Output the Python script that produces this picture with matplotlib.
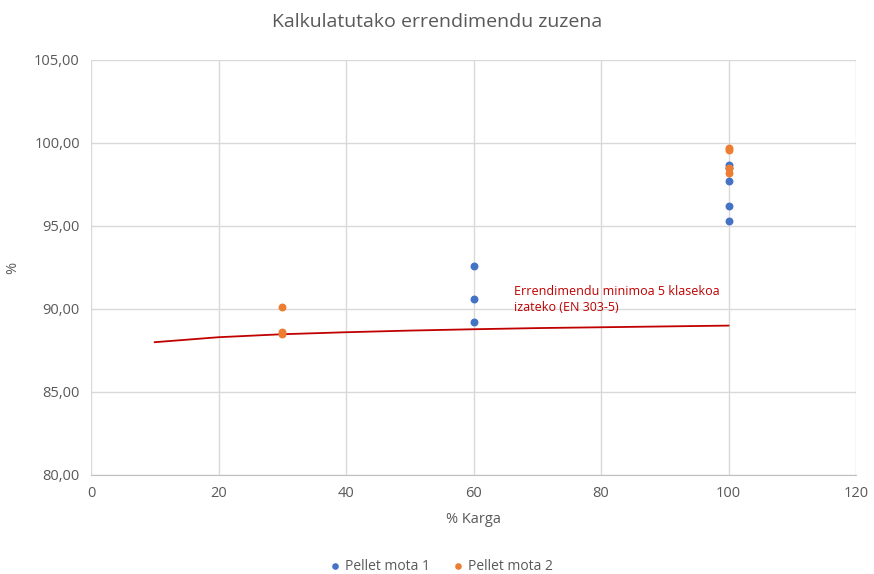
import matplotlib.pyplot as plt

plt.rcParams['font.family'] = ['Open Sans', 'DejaVu Sans']

# Data
mota1_x = [60, 60, 60, 100, 100, 100, 100, 100]
mota1_y = [92.6, 90.6, 89.2, 98.7, 98.5, 97.7, 96.2, 95.3]
mota2_x = [30, 30, 30, 100, 100, 100, 100]
mota2_y = [90.1, 88.6, 88.5, 99.7, 99.6, 98.5, 98.2]

# minimum efficiency line (EN 303-5, class 5)
min_x = [10, 20, 30, 40, 50, 60, 70, 80, 90, 100]
min_y = [88.0, 88.3, 88.48, 88.6, 88.7, 88.78, 88.85, 88.9, 88.95, 89.0]

grey = '#595959'

fig = plt.figure(figsize=(8.74, 5.74), dpi=100)
ax = fig.add_axes([91/874, 1 - 475/574, (856-91)/874, (475-60)/574])

ax.plot(min_x, min_y, color='#C00000', lw=1.3, zorder=2)
ax.scatter(mota1_x, mota1_y, s=22, color='#4472C4', zorder=3, label='Pellet mota 1')
ax.scatter(mota2_x, mota2_y, s=22, color='#ED7D31', zorder=3, label='Pellet mota 2')

ax.text(66.3, 91.45, 'Errendimendu minimoa 5 klasekoa\nizateko (EN 303-5)', color='#C00000',
        fontsize=9, va='top', ha='left', linespacing=1.3)

ax.set_xlim(0, 120)
ax.set_ylim(80, 105)
ax.set_xticks(range(0, 121, 20))
ax.set_yticks(range(80, 106, 5))
ax.set_yticklabels([f'{v},00' for v in range(80, 106, 5)])
ax.grid(True, color='#d9d9d9', lw=1)
ax.set_axisbelow(True)
for side in ['top', 'right', 'left']:
    ax.spines[side].set_visible(False)
ax.spines['bottom'].set_color('#bfbfbf')
ax.tick_params(length=0, colors=grey, labelsize=10.5, pad=8)

ax.set_xlabel('% Karga', color=grey, fontsize=10.5, labelpad=8)
ax.set_ylabel('%', color=grey, fontsize=10.5, labelpad=10)
fig.text(0.5, 1 - 22/574, 'Kalkulatutako errendimendu zuzena', ha='center', va='center',
         color=grey, fontsize=14)

fig.legend(loc='center', bbox_to_anchor=(0.5, 1 - 566/574), ncol=2, frameon=False,
           fontsize=10, labelcolor=grey, handletextpad=-0.3, columnspacing=1.0,
           markerscale=0.8)

fig.savefig('out.png', dpi=100)
